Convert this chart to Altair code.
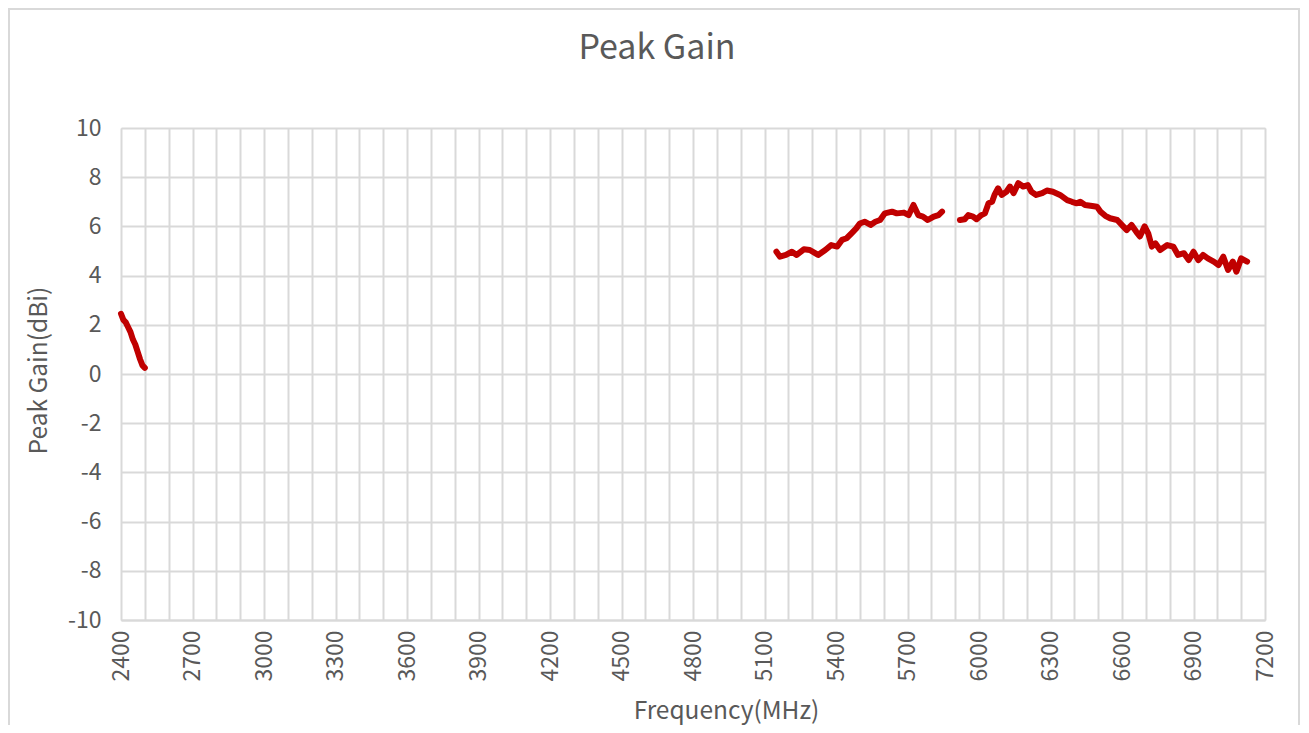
import altair as alt
import pandas as pd

# ---- data ----
seg1_freq = [2400, 2410, 2420, 2430, 2440, 2450, 2460, 2470, 2480, 2490, 2500]
seg1_gain = [2.45, 2.2, 2.1, 1.9, 1.7, 1.4, 1.2, 0.9, 0.6, 0.35, 0.25]

seg2_freq = [5150, 5165, 5190, 5215, 5235, 5265, 5290, 5325, 5355, 5380, 5405,
             5425, 5445, 5465, 5485, 5500, 5520, 5545, 5565, 5585, 5605, 5635,
             5655, 5685, 5705, 5725, 5745, 5765, 5785, 5810, 5830, 5845]
seg2_gain = [4.97, 4.77, 4.84, 4.97, 4.84, 5.07, 5.04, 4.84, 5.04, 5.24, 5.18,
             5.45, 5.52, 5.72, 5.92, 6.12, 6.19, 6.06, 6.19, 6.26, 6.53, 6.60,
             6.53, 6.56, 6.46, 6.87, 6.46, 6.40, 6.26, 6.40, 6.46, 6.60]

seg3_freq = [5920, 5940, 5955, 5975, 5990, 6010, 6025, 6040, 6055, 6065, 6080,
             6095, 6115, 6130, 6145, 6165, 6185, 6205, 6220, 6240, 6265, 6285,
             6310, 6340, 6370, 6390, 6410, 6425, 6445, 6475, 6495, 6510, 6530,
             6550, 6580, 6605, 6620, 6640, 6660, 6675, 6695, 6710, 6725, 6740,
             6760, 6790, 6815, 6835, 6860, 6880, 6900, 6920, 6940, 6960, 6985,
             7005, 7025, 7045, 7065, 7080, 7100, 7125]
seg3_gain = [6.26, 6.29, 6.46, 6.40, 6.29, 6.46, 6.53, 6.94, 7.00, 7.28, 7.55,
             7.28, 7.41, 7.62, 7.35, 7.76, 7.62, 7.68, 7.41, 7.28, 7.35, 7.46,
             7.41, 7.28, 7.07, 7.00, 6.94, 7.00, 6.87, 6.83, 6.80, 6.60, 6.43,
             6.33, 6.26, 6.00, 5.85, 6.06, 5.78, 5.59, 6.00, 5.72, 5.18, 5.31,
             5.04, 5.24, 5.18, 4.84, 4.91, 4.63, 4.97, 4.63, 4.84, 4.70, 4.57,
             4.43, 4.77, 4.23, 4.57, 4.16, 4.70, 4.57]

x_ticks = list(range(2400, 7201, 100))
y_ticks = list(range(-10, 11, 2))

rows = []
for name, fs, gs in [("s1", seg1_freq, seg1_gain), ("s2", seg2_freq, seg2_gain), ("s3", seg3_freq, seg3_gain)]:
    for f, g in zip(fs, gs):
        rows.append({"seg": name, "freq": f, "gain": g})
df = pd.DataFrame(rows)

FONT = "Noto Sans CJK SC"
TXT = "#595959"
GRID = "#d9d9d9"

line = alt.Chart(df).mark_line(
    color="#c00000", strokeWidth=6, strokeCap="round", strokeJoin="round"
).encode(
    x=alt.X("freq:Q",
            scale=alt.Scale(domain=[2400, 7200], nice=False, zero=False),
            axis=alt.Axis(values=x_ticks,
                          labelExpr="datum.value % 300 == 0 ? '' + datum.value : ''",
                          labelAngle=-90, labelAlign="right", labelBaseline="middle",
                          labelPadding=10, labelOverlap=False, labelFlush=False,
                          labelFontSize=23, labelColor=TXT, labelFont=FONT,
                          ticks=False, grid=True, gridColor=GRID, gridWidth=2,
                          domain=True, domainColor=GRID, domainWidth=2,
                          title="Frequency(MHz)", titleFontSize=24.5, titleColor=TXT,
                          titleFont=FONT, titleFontWeight="normal",
                          titleX=605, titleY=91, titleBaseline="middle", titleAlign="center")),
    y=alt.Y("gain:Q",
            scale=alt.Scale(domain=[-10, 10], nice=False, zero=False),
            axis=alt.Axis(values=y_ticks, labelExpr="'' + datum.value",
                          labelPadding=20, labelFontSize=23, labelColor=TXT, labelFont=FONT,
                          ticks=False, grid=True, gridColor=GRID, gridWidth=2,
                          domain=False, labelOverlap=False, labelFlush=False,
                          title="Peak Gain(dBi)", titleFontSize=24.5, titleColor=TXT,
                          titleFont=FONT, titleFontWeight="normal", titleAngle=-90,
                          titleX=-82, titleY=242, titleBaseline="middle", titleAlign="center")),
    detail="seg:N",
)

one = pd.DataFrame({"k": [0]})
frame = alt.Chart(one).mark_rect(
    fillOpacity=0, stroke=GRID, strokeWidth=2
).encode(x=alt.value(-112), x2=alt.value(1178), y=alt.value(-119), y2=alt.value(700))

title = alt.Chart(one).mark_text(
    text="Peak Gain", font=FONT, fontSize=34, color=TXT, align="center", baseline="middle"
).encode(x=alt.value(536), y=alt.value(-79))

chart = alt.layer(frame, line, title).properties(
    width=1144, height=492,
    autosize=alt.AutoSizeParams(type="none"),
    padding={"left": 113, "top": 120, "right": 36, "bottom": 105},
).configure_view(strokeWidth=0).configure(background="white")

chart.save("out.html", embed_options={"renderer": "svg", "actions": False})
